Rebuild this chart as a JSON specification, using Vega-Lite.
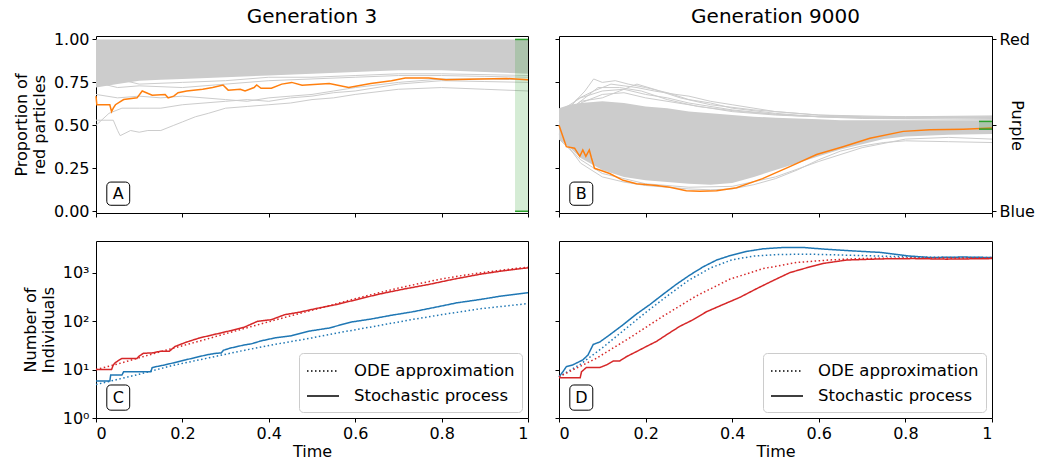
{
  "$schema": "https://vega.github.io/schema/vega-lite/v6.json",
  "background": "white",
  "autosize": {"type": "none"},
  "padding": {"left": 96, "top": 36, "right": 944, "bottom": 428},
  "bounds": "flush",
  "columns": 2,
  "spacing": {"row": 28, "column": 31},
  "resolve": {"legend": {"strokeDash": "independent"}},
  "config": {
    "font": "DejaVu Sans",
    "view": {"stroke": "black", "strokeWidth": 1},
    "axis": {"domain": false, "grid": false, "tickColor": "black", "tickSize": 4, "tickWidth": 1,
      "labelColor": "black", "labelFontSize": 16, "labelFont": "DejaVu Sans", "labelPadding": 3,
      "titleFont": "DejaVu Sans", "titleFontSize": 16, "titleFontWeight": "normal", "titleColor": "black", "titleLineHeight": 18},
    "title": {"font": "DejaVu Sans", "fontSize": 20, "fontWeight": "normal", "color": "black", "offset": 4},
    "legend": {"orient": "bottom-right", "offset": 6, "fillColor": "rgba(255,255,255,0.8)", "strokeColor": "#cccccc", "cornerRadius": 4,
      "padding": 7, "labelFontSize": 16.5, "labelFont": "DejaVu Sans", "labelColor": "black", "labelLimit": 400,
      "symbolType": "M-1.6,0H1.6", "symbolSize": 400, "symbolOffset": 6,
      "symbolStrokeColor": "black", "symbolStrokeWidth": 1.5, "rowPadding": 5, "labelOffset": 20}
  },
  "datasets": {
    "areaA": [
      {"t": 0, "lo": 0.72, "hi": 1.0}, {"t": 0.05, "lo": 0.74, "hi": 1.0}, {"t": 0.1, "lo": 0.76, "hi": 1.0},
      {"t": 0.15, "lo": 0.765, "hi": 1.0}, {"t": 0.2, "lo": 0.77, "hi": 1.0}, {"t": 0.3, "lo": 0.78, "hi": 1.0},
      {"t": 0.4, "lo": 0.79, "hi": 1.0}, {"t": 0.5, "lo": 0.8, "hi": 1.0}, {"t": 0.6, "lo": 0.81, "hi": 1.0},
      {"t": 0.7, "lo": 0.82, "hi": 1.0}, {"t": 0.8, "lo": 0.82, "hi": 1.0}, {"t": 0.9, "lo": 0.81, "hi": 1.0},
      {"t": 1.0, "lo": 0.8, "hi": 1.0}
    ],
    "greyA": [
      {"run": "g1", "t": 0, "p": 0.53}, {"run": "g1", "t": 0.04, "p": 0.53}, {"run": "g1", "t": 0.05, "p": 0.47},
      {"run": "g1", "t": 0.056, "p": 0.44}, {"run": "g1", "t": 0.08, "p": 0.47}, {"run": "g1", "t": 0.1, "p": 0.46},
      {"run": "g1", "t": 0.12, "p": 0.47}, {"run": "g1", "t": 0.15, "p": 0.47}, {"run": "g1", "t": 0.18, "p": 0.5},
      {"run": "g1", "t": 0.2, "p": 0.52}, {"run": "g1", "t": 0.23, "p": 0.55}, {"run": "g1", "t": 0.26, "p": 0.57},
      {"run": "g1", "t": 0.3, "p": 0.6}, {"run": "g1", "t": 0.35, "p": 0.61}, {"run": "g1", "t": 0.4, "p": 0.62},
      {"run": "g1", "t": 0.45, "p": 0.63}, {"run": "g1", "t": 0.5, "p": 0.65}, {"run": "g1", "t": 0.55, "p": 0.66},
      {"run": "g1", "t": 0.6, "p": 0.68}, {"run": "g1", "t": 0.7, "p": 0.71}, {"run": "g1", "t": 0.8, "p": 0.72},
      {"run": "g1", "t": 0.9, "p": 0.71}, {"run": "g1", "t": 1.0, "p": 0.7},
      {"run": "g2", "t": 0, "p": 0.5}, {"run": "g2", "t": 0.03, "p": 0.57}, {"run": "g2", "t": 0.06, "p": 0.6},
      {"run": "g2", "t": 0.1, "p": 0.6}, {"run": "g2", "t": 0.15, "p": 0.6}, {"run": "g2", "t": 0.2, "p": 0.62},
      {"run": "g2", "t": 0.25, "p": 0.63}, {"run": "g2", "t": 0.3, "p": 0.64}, {"run": "g2", "t": 0.35, "p": 0.65},
      {"run": "g2", "t": 0.4, "p": 0.64}, {"run": "g2", "t": 0.45, "p": 0.66}, {"run": "g2", "t": 0.5, "p": 0.67},
      {"run": "g2", "t": 0.55, "p": 0.69}, {"run": "g2", "t": 0.6, "p": 0.7}, {"run": "g2", "t": 0.7, "p": 0.74},
      {"run": "g2", "t": 0.8, "p": 0.76}, {"run": "g2", "t": 0.9, "p": 0.755}, {"run": "g2", "t": 1.0, "p": 0.75},
      {"run": "g3", "t": 0, "p": 0.68}, {"run": "g3", "t": 0.05, "p": 0.66}, {"run": "g3", "t": 0.1, "p": 0.67},
      {"run": "g3", "t": 0.15, "p": 0.66}, {"run": "g3", "t": 0.2, "p": 0.67}, {"run": "g3", "t": 0.25, "p": 0.66},
      {"run": "g3", "t": 0.3, "p": 0.65}, {"run": "g3", "t": 0.35, "p": 0.64}, {"run": "g3", "t": 0.4, "p": 0.66},
      {"run": "g3", "t": 0.45, "p": 0.67}, {"run": "g3", "t": 0.5, "p": 0.68}, {"run": "g3", "t": 0.55, "p": 0.7},
      {"run": "g3", "t": 0.6, "p": 0.72}, {"run": "g3", "t": 0.7, "p": 0.75}, {"run": "g3", "t": 0.8, "p": 0.77},
      {"run": "g3", "t": 0.9, "p": 0.77}, {"run": "g3", "t": 1.0, "p": 0.765},
      {"run": "g4", "t": 0, "p": 0.75}, {"run": "g4", "t": 0.05, "p": 0.72}, {"run": "g4", "t": 0.1, "p": 0.73},
      {"run": "g4", "t": 0.2, "p": 0.72}, {"run": "g4", "t": 0.3, "p": 0.74}, {"run": "g4", "t": 0.4, "p": 0.76},
      {"run": "g4", "t": 0.5, "p": 0.77}, {"run": "g4", "t": 0.6, "p": 0.78}, {"run": "g4", "t": 0.7, "p": 0.79},
      {"run": "g4", "t": 0.8, "p": 0.79}, {"run": "g4", "t": 0.9, "p": 0.785}, {"run": "g4", "t": 1.0, "p": 0.78},
      {"run": "g5", "t": 0, "p": 0.8}, {"run": "g5", "t": 0.1, "p": 0.74}, {"run": "g5", "t": 0.2, "p": 0.75},
      {"run": "g5", "t": 0.3, "p": 0.76}, {"run": "g5", "t": 0.4, "p": 0.78}, {"run": "g5", "t": 0.5, "p": 0.78},
      {"run": "g5", "t": 0.6, "p": 0.79}, {"run": "g5", "t": 0.7, "p": 0.8}, {"run": "g5", "t": 0.8, "p": 0.8},
      {"run": "g5", "t": 1.0, "p": 0.79}
    ],
    "orangeA": [
      {"t": 0, "p": 0.67}, {"t": 0.002, "p": 0.62}, {"t": 0.032, "p": 0.62}, {"t": 0.036, "p": 0.58}, {"t": 0.04, "p": 0.6},
      {"t": 0.045, "p": 0.62}, {"t": 0.064, "p": 0.65}, {"t": 0.095, "p": 0.66}, {"t": 0.107, "p": 0.7}, {"t": 0.13, "p": 0.675},
      {"t": 0.16, "p": 0.68}, {"t": 0.167, "p": 0.66}, {"t": 0.18, "p": 0.67}, {"t": 0.19, "p": 0.69}, {"t": 0.21, "p": 0.7},
      {"t": 0.247, "p": 0.71}, {"t": 0.27, "p": 0.72}, {"t": 0.294, "p": 0.735}, {"t": 0.306, "p": 0.705}, {"t": 0.334, "p": 0.71},
      {"t": 0.345, "p": 0.7}, {"t": 0.366, "p": 0.72}, {"t": 0.372, "p": 0.735}, {"t": 0.382, "p": 0.716}, {"t": 0.406, "p": 0.716},
      {"t": 0.43, "p": 0.74}, {"t": 0.453, "p": 0.75}, {"t": 0.477, "p": 0.733}, {"t": 0.54, "p": 0.743}, {"t": 0.585, "p": 0.72},
      {"t": 0.636, "p": 0.743}, {"t": 0.684, "p": 0.76}, {"t": 0.716, "p": 0.775}, {"t": 0.77, "p": 0.775}, {"t": 0.81, "p": 0.765},
      {"t": 0.89, "p": 0.77}, {"t": 0.95, "p": 0.773}, {"t": 1.0, "p": 0.765}
    ],
    "bandA": [{"x0": 0.97, "x1": 1.0, "lo": 0.0, "hi": 1.0}],
    "capsA": [{"x0": 0.97, "x1": 1.0, "y": 0.0}, {"x0": 0.97, "x1": 1.0, "y": 1.0}],
    "areaB": [
      {"t": 0, "lo": 0.42, "hi": 0.6}, {"t": 0.025, "lo": 0.37, "hi": 0.62}, {"t": 0.05, "lo": 0.31, "hi": 0.63},
      {"t": 0.1, "lo": 0.24, "hi": 0.64}, {"t": 0.15, "lo": 0.2, "hi": 0.63}, {"t": 0.2, "lo": 0.18, "hi": 0.61},
      {"t": 0.25, "lo": 0.17, "hi": 0.6}, {"t": 0.3, "lo": 0.16, "hi": 0.58}, {"t": 0.35, "lo": 0.155, "hi": 0.57},
      {"t": 0.4, "lo": 0.165, "hi": 0.56}, {"t": 0.45, "lo": 0.2, "hi": 0.55}, {"t": 0.5, "lo": 0.24, "hi": 0.545},
      {"t": 0.55, "lo": 0.28, "hi": 0.54}, {"t": 0.6, "lo": 0.32, "hi": 0.535}, {"t": 0.65, "lo": 0.36, "hi": 0.53},
      {"t": 0.7, "lo": 0.39, "hi": 0.53}, {"t": 0.75, "lo": 0.42, "hi": 0.53}, {"t": 0.8, "lo": 0.435, "hi": 0.53},
      {"t": 0.9, "lo": 0.445, "hi": 0.53}, {"t": 1.0, "lo": 0.45, "hi": 0.53}
    ],
    "greyB": [
      {"run": "u1", "t": 0, "p": 0.55}, {"run": "u1", "t": 0.03, "p": 0.62}, {"run": "u1", "t": 0.06, "p": 0.7},
      {"run": "u1", "t": 0.08, "p": 0.77}, {"run": "u1", "t": 0.1, "p": 0.75}, {"run": "u1", "t": 0.13, "p": 0.76},
      {"run": "u1", "t": 0.16, "p": 0.74}, {"run": "u1", "t": 0.2, "p": 0.72}, {"run": "u1", "t": 0.25, "p": 0.69},
      {"run": "u1", "t": 0.3, "p": 0.65}, {"run": "u1", "t": 0.35, "p": 0.63}, {"run": "u1", "t": 0.4, "p": 0.6},
      {"run": "u1", "t": 0.5, "p": 0.57}, {"run": "u1", "t": 0.6, "p": 0.55}, {"run": "u1", "t": 0.7, "p": 0.545},
      {"run": "u1", "t": 0.8, "p": 0.54}, {"run": "u1", "t": 0.9, "p": 0.545}, {"run": "u1", "t": 1.0, "p": 0.55},
      {"run": "u2", "t": 0, "p": 0.52}, {"run": "u2", "t": 0.04, "p": 0.65}, {"run": "u2", "t": 0.08, "p": 0.7},
      {"run": "u2", "t": 0.12, "p": 0.74}, {"run": "u2", "t": 0.15, "p": 0.73}, {"run": "u2", "t": 0.18, "p": 0.72},
      {"run": "u2", "t": 0.22, "p": 0.7}, {"run": "u2", "t": 0.27, "p": 0.68}, {"run": "u2", "t": 0.3, "p": 0.67},
      {"run": "u2", "t": 0.35, "p": 0.64}, {"run": "u2", "t": 0.4, "p": 0.62}, {"run": "u2", "t": 0.45, "p": 0.6},
      {"run": "u2", "t": 0.5, "p": 0.58}, {"run": "u2", "t": 0.6, "p": 0.56}, {"run": "u2", "t": 0.7, "p": 0.55},
      {"run": "u2", "t": 0.8, "p": 0.55}, {"run": "u2", "t": 0.9, "p": 0.55}, {"run": "u2", "t": 1.0, "p": 0.545},
      {"run": "u3", "t": 0, "p": 0.58}, {"run": "u3", "t": 0.05, "p": 0.66}, {"run": "u3", "t": 0.1, "p": 0.7},
      {"run": "u3", "t": 0.15, "p": 0.71}, {"run": "u3", "t": 0.2, "p": 0.68}, {"run": "u3", "t": 0.25, "p": 0.66},
      {"run": "u3", "t": 0.3, "p": 0.63}, {"run": "u3", "t": 0.4, "p": 0.59}, {"run": "u3", "t": 0.5, "p": 0.565},
      {"run": "u3", "t": 0.6, "p": 0.55}, {"run": "u3", "t": 0.8, "p": 0.545}, {"run": "u3", "t": 1.0, "p": 0.54},
      {"run": "u4", "t": 0, "p": 0.5}, {"run": "u4", "t": 0.05, "p": 0.63}, {"run": "u4", "t": 0.1, "p": 0.68},
      {"run": "u4", "t": 0.15, "p": 0.69}, {"run": "u4", "t": 0.2, "p": 0.66}, {"run": "u4", "t": 0.3, "p": 0.62},
      {"run": "u4", "t": 0.4, "p": 0.58}, {"run": "u4", "t": 0.5, "p": 0.56}, {"run": "u4", "t": 0.7, "p": 0.54},
      {"run": "u4", "t": 1.0, "p": 0.535},
      {"run": "u5", "t": 0, "p": 0.56}, {"run": "u5", "t": 0.04, "p": 0.62}, {"run": "u5", "t": 0.09, "p": 0.72},
      {"run": "u5", "t": 0.14, "p": 0.72}, {"run": "u5", "t": 0.19, "p": 0.7}, {"run": "u5", "t": 0.25, "p": 0.65},
      {"run": "u5", "t": 0.32, "p": 0.61}, {"run": "u5", "t": 0.42, "p": 0.58}, {"run": "u5", "t": 0.55, "p": 0.555},
      {"run": "u5", "t": 0.75, "p": 0.545}, {"run": "u5", "t": 1.0, "p": 0.55},
      {"run": "u6", "t": 0, "p": 0.54}, {"run": "u6", "t": 0.05, "p": 0.64}, {"run": "u6", "t": 0.1, "p": 0.66},
      {"run": "u6", "t": 0.14, "p": 0.7}, {"run": "u6", "t": 0.18, "p": 0.74}, {"run": "u6", "t": 0.22, "p": 0.71},
      {"run": "u6", "t": 0.28, "p": 0.66}, {"run": "u6", "t": 0.35, "p": 0.62}, {"run": "u6", "t": 0.45, "p": 0.59},
      {"run": "u6", "t": 0.6, "p": 0.56}, {"run": "u6", "t": 0.8, "p": 0.55}, {"run": "u6", "t": 1.0, "p": 0.555},
      {"run": "l1", "t": 0, "p": 0.45}, {"run": "l1", "t": 0.05, "p": 0.28}, {"run": "l1", "t": 0.1, "p": 0.2},
      {"run": "l1", "t": 0.15, "p": 0.17}, {"run": "l1", "t": 0.2, "p": 0.15}, {"run": "l1", "t": 0.25, "p": 0.14},
      {"run": "l1", "t": 0.3, "p": 0.13}, {"run": "l1", "t": 0.35, "p": 0.125}, {"run": "l1", "t": 0.4, "p": 0.13},
      {"run": "l1", "t": 0.45, "p": 0.155}, {"run": "l1", "t": 0.5, "p": 0.19}, {"run": "l1", "t": 0.55, "p": 0.24},
      {"run": "l1", "t": 0.6, "p": 0.3}, {"run": "l1", "t": 0.65, "p": 0.35}, {"run": "l1", "t": 0.7, "p": 0.38},
      {"run": "l1", "t": 0.75, "p": 0.4}, {"run": "l1", "t": 0.8, "p": 0.41}, {"run": "l1", "t": 0.9, "p": 0.405},
      {"run": "l1", "t": 1.0, "p": 0.4},
      {"run": "l2", "t": 0, "p": 0.42}, {"run": "l2", "t": 0.05, "p": 0.3}, {"run": "l2", "t": 0.1, "p": 0.22},
      {"run": "l2", "t": 0.2, "p": 0.16}, {"run": "l2", "t": 0.3, "p": 0.14}, {"run": "l2", "t": 0.4, "p": 0.145},
      {"run": "l2", "t": 0.5, "p": 0.2}, {"run": "l2", "t": 0.6, "p": 0.29}, {"run": "l2", "t": 0.7, "p": 0.37},
      {"run": "l2", "t": 0.8, "p": 0.42}, {"run": "l2", "t": 0.9, "p": 0.43}, {"run": "l2", "t": 1.0, "p": 0.42}
    ],
    "orangeB": [
      {"t": 0, "p": 0.5}, {"t": 0.017, "p": 0.376}, {"t": 0.036, "p": 0.367}, {"t": 0.048, "p": 0.32}, {"t": 0.055, "p": 0.357},
      {"t": 0.062, "p": 0.32}, {"t": 0.07, "p": 0.357}, {"t": 0.075, "p": 0.31}, {"t": 0.082, "p": 0.25}, {"t": 0.094, "p": 0.24},
      {"t": 0.117, "p": 0.22}, {"t": 0.148, "p": 0.18}, {"t": 0.179, "p": 0.16}, {"t": 0.225, "p": 0.15}, {"t": 0.256, "p": 0.14},
      {"t": 0.294, "p": 0.12}, {"t": 0.325, "p": 0.116}, {"t": 0.364, "p": 0.12}, {"t": 0.41, "p": 0.137}, {"t": 0.47, "p": 0.19},
      {"t": 0.533, "p": 0.26}, {"t": 0.595, "p": 0.33}, {"t": 0.656, "p": 0.376}, {"t": 0.718, "p": 0.425}, {"t": 0.795, "p": 0.465},
      {"t": 0.857, "p": 0.475}, {"t": 0.934, "p": 0.478}, {"t": 1.0, "p": 0.484}
    ],
    "bandB": [{"x0": 0.97, "x1": 1.0, "lo": 0.478, "hi": 0.523}],
    "capsB": [{"x0": 0.97, "x1": 1.0, "y": 0.478}, {"x0": 0.97, "x1": 1.0, "y": 0.523}],
    "popC": [
      {"sp": "red", "kind": "Stochastic process", "t": 0, "n": 10}, {"sp": "red", "kind": "Stochastic process", "t": 0.036, "n": 10},
      {"sp": "red", "kind": "Stochastic process", "t": 0.04, "n": 12.4}, {"sp": "red", "kind": "Stochastic process", "t": 0.045, "n": 14},
      {"sp": "red", "kind": "Stochastic process", "t": 0.06, "n": 17}, {"sp": "red", "kind": "Stochastic process", "t": 0.095, "n": 17},
      {"sp": "red", "kind": "Stochastic process", "t": 0.1, "n": 19}, {"sp": "red", "kind": "Stochastic process", "t": 0.11, "n": 21.7},
      {"sp": "red", "kind": "Stochastic process", "t": 0.13, "n": 22}, {"sp": "red", "kind": "Stochastic process", "t": 0.15, "n": 24},
      {"sp": "red", "kind": "Stochastic process", "t": 0.17, "n": 24}, {"sp": "red", "kind": "Stochastic process", "t": 0.183, "n": 30},
      {"sp": "red", "kind": "Stochastic process", "t": 0.21, "n": 37}, {"sp": "red", "kind": "Stochastic process", "t": 0.24, "n": 45},
      {"sp": "red", "kind": "Stochastic process", "t": 0.27, "n": 52}, {"sp": "red", "kind": "Stochastic process", "t": 0.31, "n": 63},
      {"sp": "red", "kind": "Stochastic process", "t": 0.342, "n": 74}, {"sp": "red", "kind": "Stochastic process", "t": 0.374, "n": 99},
      {"sp": "red", "kind": "Stochastic process", "t": 0.406, "n": 107}, {"sp": "red", "kind": "Stochastic process", "t": 0.437, "n": 136},
      {"sp": "red", "kind": "Stochastic process", "t": 0.47, "n": 152}, {"sp": "red", "kind": "Stochastic process", "t": 0.51, "n": 182},
      {"sp": "red", "kind": "Stochastic process", "t": 0.557, "n": 220}, {"sp": "red", "kind": "Stochastic process", "t": 0.605, "n": 280},
      {"sp": "red", "kind": "Stochastic process", "t": 0.652, "n": 355}, {"sp": "red", "kind": "Stochastic process", "t": 0.708, "n": 450},
      {"sp": "red", "kind": "Stochastic process", "t": 0.772, "n": 575}, {"sp": "red", "kind": "Stochastic process", "t": 0.827, "n": 730},
      {"sp": "red", "kind": "Stochastic process", "t": 0.89, "n": 930}, {"sp": "red", "kind": "Stochastic process", "t": 0.939, "n": 1080},
      {"sp": "red", "kind": "Stochastic process", "t": 1.0, "n": 1260},
      {"sp": "red", "kind": "ODE approximation", "t": 0, "n": 10}, {"sp": "red", "kind": "ODE approximation", "t": 0.05, "n": 13},
      {"sp": "red", "kind": "ODE approximation", "t": 0.1, "n": 17.5}, {"sp": "red", "kind": "ODE approximation", "t": 0.15, "n": 23.5},
      {"sp": "red", "kind": "ODE approximation", "t": 0.2, "n": 31}, {"sp": "red", "kind": "ODE approximation", "t": 0.25, "n": 41},
      {"sp": "red", "kind": "ODE approximation", "t": 0.3, "n": 55}, {"sp": "red", "kind": "ODE approximation", "t": 0.35, "n": 73},
      {"sp": "red", "kind": "ODE approximation", "t": 0.4, "n": 97}, {"sp": "red", "kind": "ODE approximation", "t": 0.45, "n": 128},
      {"sp": "red", "kind": "ODE approximation", "t": 0.5, "n": 168}, {"sp": "red", "kind": "ODE approximation", "t": 0.55, "n": 220},
      {"sp": "red", "kind": "ODE approximation", "t": 0.6, "n": 290}, {"sp": "red", "kind": "ODE approximation", "t": 0.65, "n": 375},
      {"sp": "red", "kind": "ODE approximation", "t": 0.7, "n": 480}, {"sp": "red", "kind": "ODE approximation", "t": 0.75, "n": 600},
      {"sp": "red", "kind": "ODE approximation", "t": 0.8, "n": 740}, {"sp": "red", "kind": "ODE approximation", "t": 0.85, "n": 880},
      {"sp": "red", "kind": "ODE approximation", "t": 0.9, "n": 1020}, {"sp": "red", "kind": "ODE approximation", "t": 0.95, "n": 1160},
      {"sp": "red", "kind": "ODE approximation", "t": 1.0, "n": 1300},
      {"sp": "blue", "kind": "Stochastic process", "t": 0, "n": 5.8}, {"sp": "blue", "kind": "Stochastic process", "t": 0.032, "n": 5.8},
      {"sp": "blue", "kind": "Stochastic process", "t": 0.034, "n": 7.7}, {"sp": "blue", "kind": "Stochastic process", "t": 0.06, "n": 7.7},
      {"sp": "blue", "kind": "Stochastic process", "t": 0.064, "n": 9}, {"sp": "blue", "kind": "Stochastic process", "t": 0.127, "n": 9},
      {"sp": "blue", "kind": "Stochastic process", "t": 0.13, "n": 11}, {"sp": "blue", "kind": "Stochastic process", "t": 0.15, "n": 12},
      {"sp": "blue", "kind": "Stochastic process", "t": 0.16, "n": 12.5}, {"sp": "blue", "kind": "Stochastic process", "t": 0.183, "n": 14},
      {"sp": "blue", "kind": "Stochastic process", "t": 0.207, "n": 15.8}, {"sp": "blue", "kind": "Stochastic process", "t": 0.23, "n": 17.7},
      {"sp": "blue", "kind": "Stochastic process", "t": 0.255, "n": 20}, {"sp": "blue", "kind": "Stochastic process", "t": 0.278, "n": 21.7},
      {"sp": "blue", "kind": "Stochastic process", "t": 0.29, "n": 22}, {"sp": "blue", "kind": "Stochastic process", "t": 0.295, "n": 25},
      {"sp": "blue", "kind": "Stochastic process", "t": 0.31, "n": 27.6}, {"sp": "blue", "kind": "Stochastic process", "t": 0.342, "n": 32},
      {"sp": "blue", "kind": "Stochastic process", "t": 0.36, "n": 34}, {"sp": "blue", "kind": "Stochastic process", "t": 0.382, "n": 39},
      {"sp": "blue", "kind": "Stochastic process", "t": 0.414, "n": 45}, {"sp": "blue", "kind": "Stochastic process", "t": 0.453, "n": 50},
      {"sp": "blue", "kind": "Stochastic process", "t": 0.493, "n": 62}, {"sp": "blue", "kind": "Stochastic process", "t": 0.54, "n": 72},
      {"sp": "blue", "kind": "Stochastic process", "t": 0.589, "n": 95}, {"sp": "blue", "kind": "Stochastic process", "t": 0.636, "n": 110},
      {"sp": "blue", "kind": "Stochastic process", "t": 0.684, "n": 132}, {"sp": "blue", "kind": "Stochastic process", "t": 0.732, "n": 155},
      {"sp": "blue", "kind": "Stochastic process", "t": 0.788, "n": 195}, {"sp": "blue", "kind": "Stochastic process", "t": 0.835, "n": 238},
      {"sp": "blue", "kind": "Stochastic process", "t": 0.89, "n": 280}, {"sp": "blue", "kind": "Stochastic process", "t": 0.939, "n": 330},
      {"sp": "blue", "kind": "Stochastic process", "t": 1.0, "n": 385},
      {"sp": "blue", "kind": "ODE approximation", "t": 0, "n": 4.9}, {"sp": "blue", "kind": "ODE approximation", "t": 0.1, "n": 8},
      {"sp": "blue", "kind": "ODE approximation", "t": 0.175, "n": 12}, {"sp": "blue", "kind": "ODE approximation", "t": 0.255, "n": 17},
      {"sp": "blue", "kind": "ODE approximation", "t": 0.334, "n": 24}, {"sp": "blue", "kind": "ODE approximation", "t": 0.414, "n": 33},
      {"sp": "blue", "kind": "ODE approximation", "t": 0.5, "n": 45}, {"sp": "blue", "kind": "ODE approximation", "t": 0.573, "n": 60},
      {"sp": "blue", "kind": "ODE approximation", "t": 0.652, "n": 80}, {"sp": "blue", "kind": "ODE approximation", "t": 0.732, "n": 108},
      {"sp": "blue", "kind": "ODE approximation", "t": 0.81, "n": 140}, {"sp": "blue", "kind": "ODE approximation", "t": 0.89, "n": 180},
      {"sp": "blue", "kind": "ODE approximation", "t": 1.0, "n": 230}
    ],
    "popD": [
      {"sp": "blue", "kind": "Stochastic process", "t": 0, "n": 7.1}, {"sp": "blue", "kind": "Stochastic process", "t": 0.009, "n": 9},
      {"sp": "blue", "kind": "Stochastic process", "t": 0.017, "n": 11.5}, {"sp": "blue", "kind": "Stochastic process", "t": 0.032, "n": 12.5},
      {"sp": "blue", "kind": "Stochastic process", "t": 0.055, "n": 15.8}, {"sp": "blue", "kind": "Stochastic process", "t": 0.067, "n": 20},
      {"sp": "blue", "kind": "Stochastic process", "t": 0.079, "n": 33}, {"sp": "blue", "kind": "Stochastic process", "t": 0.094, "n": 37},
      {"sp": "blue", "kind": "Stochastic process", "t": 0.117, "n": 52}, {"sp": "blue", "kind": "Stochastic process", "t": 0.148, "n": 84},
      {"sp": "blue", "kind": "Stochastic process", "t": 0.179, "n": 140}, {"sp": "blue", "kind": "Stochastic process", "t": 0.21, "n": 220},
      {"sp": "blue", "kind": "Stochastic process", "t": 0.24, "n": 355}, {"sp": "blue", "kind": "Stochastic process", "t": 0.271, "n": 575},
      {"sp": "blue", "kind": "Stochastic process", "t": 0.302, "n": 890}, {"sp": "blue", "kind": "Stochastic process", "t": 0.333, "n": 1320},
      {"sp": "blue", "kind": "Stochastic process", "t": 0.364, "n": 1820}, {"sp": "blue", "kind": "Stochastic process", "t": 0.394, "n": 2230},
      {"sp": "blue", "kind": "Stochastic process", "t": 0.433, "n": 2740}, {"sp": "blue", "kind": "Stochastic process", "t": 0.471, "n": 3100},
      {"sp": "blue", "kind": "Stochastic process", "t": 0.518, "n": 3310}, {"sp": "blue", "kind": "Stochastic process", "t": 0.564, "n": 3310},
      {"sp": "blue", "kind": "Stochastic process", "t": 0.61, "n": 3070}, {"sp": "blue", "kind": "Stochastic process", "t": 0.672, "n": 2830},
      {"sp": "blue", "kind": "Stochastic process", "t": 0.741, "n": 2620}, {"sp": "blue", "kind": "Stochastic process", "t": 0.803, "n": 2230},
      {"sp": "blue", "kind": "Stochastic process", "t": 0.857, "n": 2050}, {"sp": "blue", "kind": "Stochastic process", "t": 0.934, "n": 2100},
      {"sp": "blue", "kind": "Stochastic process", "t": 1.0, "n": 2050},
      {"sp": "blue", "kind": "ODE approximation", "t": 0, "n": 7.1}, {"sp": "blue", "kind": "ODE approximation", "t": 0.05, "n": 13},
      {"sp": "blue", "kind": "ODE approximation", "t": 0.1, "n": 28}, {"sp": "blue", "kind": "ODE approximation", "t": 0.15, "n": 65},
      {"sp": "blue", "kind": "ODE approximation", "t": 0.2, "n": 150}, {"sp": "blue", "kind": "ODE approximation", "t": 0.25, "n": 330},
      {"sp": "blue", "kind": "ODE approximation", "t": 0.3, "n": 700}, {"sp": "blue", "kind": "ODE approximation", "t": 0.35, "n": 1250},
      {"sp": "blue", "kind": "ODE approximation", "t": 0.4, "n": 1850}, {"sp": "blue", "kind": "ODE approximation", "t": 0.45, "n": 2200},
      {"sp": "blue", "kind": "ODE approximation", "t": 0.5, "n": 2350}, {"sp": "blue", "kind": "ODE approximation", "t": 0.55, "n": 2400},
      {"sp": "blue", "kind": "ODE approximation", "t": 0.6, "n": 2380}, {"sp": "blue", "kind": "ODE approximation", "t": 0.7, "n": 2250},
      {"sp": "blue", "kind": "ODE approximation", "t": 0.8, "n": 2120}, {"sp": "blue", "kind": "ODE approximation", "t": 0.9, "n": 2060},
      {"sp": "blue", "kind": "ODE approximation", "t": 1.0, "n": 2050},
      {"sp": "red", "kind": "ODE approximation", "t": 0, "n": 7.1}, {"sp": "red", "kind": "ODE approximation", "t": 0.086, "n": 17},
      {"sp": "red", "kind": "ODE approximation", "t": 0.163, "n": 45}, {"sp": "red", "kind": "ODE approximation", "t": 0.24, "n": 126},
      {"sp": "red", "kind": "ODE approximation", "t": 0.317, "n": 330}, {"sp": "red", "kind": "ODE approximation", "t": 0.394, "n": 730},
      {"sp": "red", "kind": "ODE approximation", "t": 0.471, "n": 1210}, {"sp": "red", "kind": "ODE approximation", "t": 0.549, "n": 1620},
      {"sp": "red", "kind": "ODE approximation", "t": 0.626, "n": 1830}, {"sp": "red", "kind": "ODE approximation", "t": 0.7, "n": 1960},
      {"sp": "red", "kind": "ODE approximation", "t": 0.8, "n": 2000}, {"sp": "red", "kind": "ODE approximation", "t": 1.0, "n": 2000},
      {"sp": "red", "kind": "Stochastic process", "t": 0, "n": 6.8}, {"sp": "red", "kind": "Stochastic process", "t": 0.049, "n": 6.8},
      {"sp": "red", "kind": "Stochastic process", "t": 0.052, "n": 9}, {"sp": "red", "kind": "Stochastic process", "t": 0.063, "n": 11},
      {"sp": "red", "kind": "Stochastic process", "t": 0.094, "n": 11}, {"sp": "red", "kind": "Stochastic process", "t": 0.11, "n": 12.5},
      {"sp": "red", "kind": "Stochastic process", "t": 0.125, "n": 15}, {"sp": "red", "kind": "Stochastic process", "t": 0.14, "n": 15},
      {"sp": "red", "kind": "Stochastic process", "t": 0.156, "n": 18.5}, {"sp": "red", "kind": "Stochastic process", "t": 0.179, "n": 23.5},
      {"sp": "red", "kind": "Stochastic process", "t": 0.202, "n": 30}, {"sp": "red", "kind": "Stochastic process", "t": 0.225, "n": 38},
      {"sp": "red", "kind": "Stochastic process", "t": 0.248, "n": 52}, {"sp": "red", "kind": "Stochastic process", "t": 0.279, "n": 78},
      {"sp": "red", "kind": "Stochastic process", "t": 0.31, "n": 107}, {"sp": "red", "kind": "Stochastic process", "t": 0.34, "n": 155},
      {"sp": "red", "kind": "Stochastic process", "t": 0.379, "n": 220}, {"sp": "red", "kind": "Stochastic process", "t": 0.418, "n": 310},
      {"sp": "red", "kind": "Stochastic process", "t": 0.456, "n": 465}, {"sp": "red", "kind": "Stochastic process", "t": 0.495, "n": 690},
      {"sp": "red", "kind": "Stochastic process", "t": 0.533, "n": 1000}, {"sp": "red", "kind": "Stochastic process", "t": 0.572, "n": 1260},
      {"sp": "red", "kind": "Stochastic process", "t": 0.61, "n": 1550}, {"sp": "red", "kind": "Stochastic process", "t": 0.664, "n": 1820},
      {"sp": "red", "kind": "Stochastic process", "t": 0.741, "n": 1920}, {"sp": "red", "kind": "Stochastic process", "t": 0.818, "n": 1950},
      {"sp": "red", "kind": "Stochastic process", "t": 0.895, "n": 1900}, {"sp": "red", "kind": "Stochastic process", "t": 1.0, "n": 1950}
    ]
  },
  "concat": [
    {
      "title": {"text": "Generation 3"},
      "width": 432, "height": 177,
      "layer": [
        {"data": {"name": "areaA"}, "mark": {"type": "area", "color": "#cccccc"},
         "encoding": {
           "x": {"field": "t", "type": "quantitative", "scale": {"domain": [0, 1], "nice": false},
                 "axis": {"values": [0, 0.2, 0.4, 0.6, 0.8, 1], "labels": false, "title": null}},
           "y": {"field": "lo", "type": "quantitative", "scale": {"domain": [-0.01, 1.02], "nice": false, "zero": false},
                 "axis": {"values": [0, 0.25, 0.5, 0.75, 1], "format": ".2f", "title": ["Proportion of", "red particles"], "titlePadding": 6}},
           "y2": {"field": "hi"}}},
        {"data": {"name": "greyA"}, "mark": {"type": "line", "color": "#cccccc", "strokeWidth": 1},
         "encoding": {"x": {"field": "t", "type": "quantitative"}, "y": {"field": "p", "type": "quantitative"}, "detail": {"field": "run"}}},
        {"data": {"name": "bandA"}, "mark": {"type": "rect", "color": "#2ca02c", "opacity": 0.2},
         "encoding": {"x": {"field": "x0", "type": "quantitative"}, "x2": {"field": "x1"}, "y": {"field": "lo", "type": "quantitative"}, "y2": {"field": "hi"}}},
        {"data": {"name": "orangeA"}, "mark": {"type": "line", "color": "#ff7f0e", "strokeWidth": 1.5},
         "encoding": {"x": {"field": "t", "type": "quantitative"}, "y": {"field": "p", "type": "quantitative"}}},
        {"data": {"name": "capsA"}, "mark": {"type": "rule", "color": "#2ca02c", "strokeWidth": 1.5},
         "encoding": {"x": {"field": "x0", "type": "quantitative"}, "x2": {"field": "x1"}, "y": {"field": "y", "type": "quantitative"}}},
        {"data": {"values": [{"label": "A"}]}, "mark": {"type": "rect", "fill": "white", "stroke": "black", "strokeWidth": 1, "cornerRadius": 4},
         "encoding": {"x": {"datum": 0.025, "type": "quantitative"}, "x2": {"datum": 0.078}, "y": {"datum": 0.035, "type": "quantitative"}, "y2": {"datum": 0.17}}},
        {"data": {"values": [{"label": "A"}]}, "mark": {"type": "text", "fontSize": 16, "color": "black", "align": "center", "baseline": "middle"},
         "encoding": {"x": {"datum": 0.0515, "type": "quantitative"}, "y": {"datum": 0.1, "type": "quantitative"}, "text": {"field": "label"}}}
      ]
    },
    {
      "title": {"text": "Generation 9000"},
      "width": 433, "height": 177,
      "layer": [
        {"layer": [
          {"data": {"name": "areaB"}, "mark": {"type": "area", "color": "#cccccc"},
           "encoding": {
             "x": {"field": "t", "type": "quantitative", "scale": {"domain": [0, 1], "nice": false},
                   "axis": {"values": [0, 0.2, 0.4, 0.6, 0.8, 1], "labels": false, "title": null}},
             "y": {"field": "lo", "type": "quantitative", "scale": {"domain": [-0.01, 1.02], "nice": false, "zero": false},
                   "axis": {"values": [0, 0.25, 0.5, 0.75, 1], "labels": false, "title": null}},
             "y2": {"field": "hi"}}},
          {"data": {"name": "greyB"}, "mark": {"type": "line", "color": "#cccccc", "strokeWidth": 1},
           "encoding": {"x": {"field": "t", "type": "quantitative"}, "y": {"field": "p", "type": "quantitative"}, "detail": {"field": "run"}}},
          {"data": {"name": "orangeB"}, "mark": {"type": "line", "color": "#ff7f0e", "strokeWidth": 1.5},
           "encoding": {"x": {"field": "t", "type": "quantitative"}, "y": {"field": "p", "type": "quantitative"}}},
          {"data": {"name": "bandB"}, "mark": {"type": "rect", "color": "#2ca02c", "opacity": 0.2},
           "encoding": {"x": {"field": "x0", "type": "quantitative"}, "x2": {"field": "x1"}, "y": {"field": "lo", "type": "quantitative"}, "y2": {"field": "hi"}}},
          {"data": {"name": "capsB"}, "mark": {"type": "rule", "color": "#2ca02c", "strokeWidth": 1.5},
           "encoding": {"x": {"field": "x0", "type": "quantitative"}, "x2": {"field": "x1"}, "y": {"field": "y", "type": "quantitative"}}},
          {"data": {"values": [{"label": "B"}]}, "mark": {"type": "rect", "fill": "white", "stroke": "black", "strokeWidth": 1, "cornerRadius": 4},
           "encoding": {"x": {"datum": 0.025, "type": "quantitative"}, "x2": {"datum": 0.078}, "y": {"datum": 0.035, "type": "quantitative"}, "y2": {"datum": 0.17}}},
          {"data": {"values": [{"label": "B"}]}, "mark": {"type": "text", "fontSize": 16, "color": "black", "align": "center", "baseline": "middle"},
           "encoding": {"x": {"datum": 0.0515, "type": "quantitative"}, "y": {"datum": 0.1, "type": "quantitative"}, "text": {"field": "label"}}}
        ]},
        {"data": {"name": "orangeB"}, "mark": {"type": "point", "opacity": 0},
         "encoding": {
           "x": {"field": "t", "type": "quantitative"},
           "y": {"field": "p", "type": "quantitative", "scale": {"domain": [-0.01, 1.02], "nice": false, "zero": false},
                 "axis": {"orient": "right", "values": [0, 0.5, 1],
                   "labelExpr": "datum.value == 1 ? 'Red' : (datum.value == 0 ? 'Blue' : '')",
                   "title": "Purple", "titleAngle": 90, "titleAlign": "center", "titleBaseline": "middle", "titleX": 24, "titleY": 89}}}}
      ],
      "resolve": {"scale": {"y": "independent"}}
    },
    {
      "width": 432, "height": 177,
      "layer": [
        {"data": {"name": "popC"}, "mark": {"type": "line", "strokeWidth": 1.5},
         "encoding": {
           "x": {"field": "t", "type": "quantitative", "scale": {"domain": [0, 1], "nice": false},
                 "axis": {"values": [0, 0.2, 0.4, 0.6, 0.8, 1], "format": "~g", "title": "Time", "titlePadding": 2}},
           "y": {"field": "n", "type": "quantitative", "scale": {"type": "log", "domain": [1, 4500], "nice": false},
                 "axis": {"values": [1, 10, 100, 1000],
                   "labelExpr": "datum.value == 1 ? '10⁰' : datum.value == 10 ? '10¹' : datum.value == 100 ? '10²' : '10³'",
                   "title": ["Number of", "Individuals"], "titlePadding": 6}},
           "color": {"field": "sp", "type": "nominal", "scale": {"domain": ["red", "blue"], "range": ["#d62728", "#1f77b4"]}, "legend": null},
           "strokeDash": {"field": "kind", "type": "nominal",
             "scale": {"domain": ["ODE approximation", "Stochastic process"], "range": [[1.5, 2.5], [1, 0]]},
             "legend": {"title": null}}}},
        {"data": {"values": [{"label": "C"}]}, "mark": {"type": "rect", "fill": "white", "stroke": "black", "strokeWidth": 1, "cornerRadius": 4},
         "encoding": {"x": {"datum": 0.025, "type": "quantitative"}, "x2": {"datum": 0.078}, "y": {"datum": 1.45, "type": "quantitative"}, "y2": {"datum": 4.8}}},
        {"data": {"values": [{"label": "C"}]}, "mark": {"type": "text", "fontSize": 16, "color": "black", "align": "center", "baseline": "middle"},
         "encoding": {"x": {"datum": 0.0515, "type": "quantitative"}, "y": {"datum": 2.64, "type": "quantitative"}, "text": {"field": "label"}}}
      ]
    },
    {
      "width": 433, "height": 177,
      "layer": [
        {"data": {"name": "popD"}, "mark": {"type": "line", "strokeWidth": 1.5},
         "encoding": {
           "x": {"field": "t", "type": "quantitative", "scale": {"domain": [0, 1], "nice": false},
                 "axis": {"values": [0, 0.2, 0.4, 0.6, 0.8, 1], "format": "~g", "title": "Time", "titlePadding": 2}},
           "y": {"field": "n", "type": "quantitative", "scale": {"type": "log", "domain": [1, 4500], "nice": false},
                 "axis": {"values": [1, 10, 100, 1000], "labels": false, "title": null}},
           "color": {"field": "sp", "type": "nominal", "scale": {"domain": ["red", "blue"], "range": ["#d62728", "#1f77b4"]}, "legend": null},
           "strokeDash": {"field": "kind", "type": "nominal",
             "scale": {"domain": ["ODE approximation", "Stochastic process"], "range": [[1.5, 2.5], [1, 0]]},
             "legend": {"title": null}}}},
        {"data": {"values": [{"label": "D"}]}, "mark": {"type": "rect", "fill": "white", "stroke": "black", "strokeWidth": 1, "cornerRadius": 4},
         "encoding": {"x": {"datum": 0.025, "type": "quantitative"}, "x2": {"datum": 0.078}, "y": {"datum": 1.45, "type": "quantitative"}, "y2": {"datum": 4.8}}},
        {"data": {"values": [{"label": "D"}]}, "mark": {"type": "text", "fontSize": 16, "color": "black", "align": "center", "baseline": "middle"},
         "encoding": {"x": {"datum": 0.0515, "type": "quantitative"}, "y": {"datum": 2.64, "type": "quantitative"}, "text": {"field": "label"}}}
      ]
    }
  ]
}
